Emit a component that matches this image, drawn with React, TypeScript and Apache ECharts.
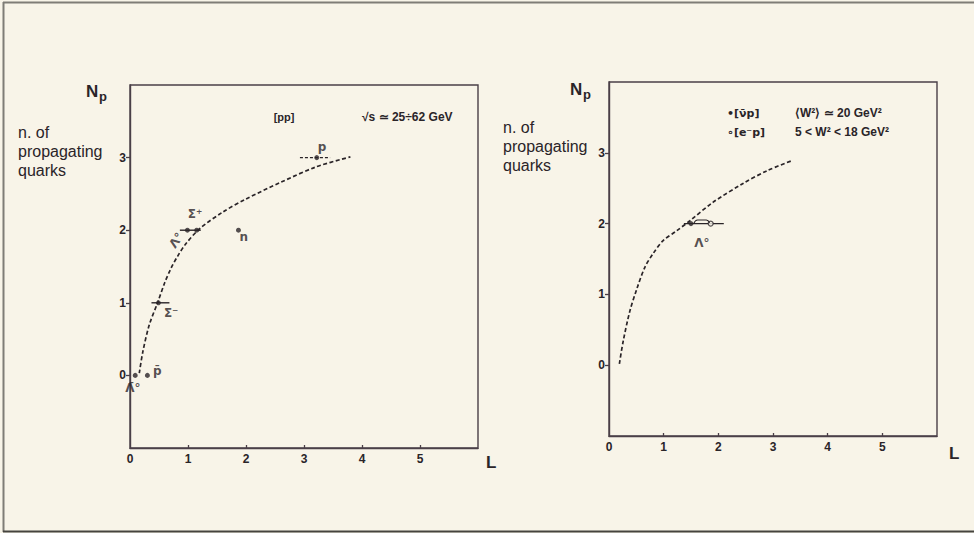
import React, { useEffect, useRef } from "react";
import * as echarts from "echarts";

// ---------- shared axis ticks ----------
const X_TICK_LABELS = [0, 1, 2, 3, 4, 5];
const X_TICK_MARKS = [1, 2, 3, 4, 5];
const Y_TICK_LABELS = [0, 1, 2, 3];

// ---------- left panel: [pp] ----------
const ppCurveL = [0.16, 0.22, 0.33, 0.48, 0.6, 0.71, 0.82, 0.95, 1.2, 1.6, 2.0, 2.6, 3.2, 3.8];
const ppCurveN = [0.03, 0.32, 0.69, 1.01, 1.28, 1.48, 1.64, 1.8, 2.02, 2.25, 2.43, 2.66, 2.87, 3.01];
const ppPointL = [0.09, 0.3, 0.49, 0.99, 1.15, 1.87, 3.22];
const ppPointN = [0, 0, 1, 2, 2, 2, 3];
const ppErrLow = [0.37, 0.86, 2.93];
const ppErrHigh = [0.68, 1.22, 3.45];
const ppErrN = [1, 2, 3];
const ppLabels = ["Λ̄°", "p̄", "Σ⁻", "Λ°", "Σ⁺", "n", "p"];
const ppLabelL = [0.05, 0.47, 0.71, 0.8, 1.12, 1.96, 3.31];
const ppLabelN = [-0.17, 0.06, 0.86, 1.86, 2.22, 1.9, 3.14];

// ---------- right panel: [ν̄p], [e⁻p] ----------
const vpCurveL = [0.19, 0.26, 0.38, 0.51, 0.66, 0.81, 0.99, 1.24, 1.48, 1.9, 2.46, 2.9, 3.35];
const vpCurveN = [0.02, 0.34, 0.76, 1.08, 1.39, 1.58, 1.76, 1.9, 2.04, 2.3, 2.57, 2.75, 2.89];
const vpFilledL = [1.5];
const vpFilledN = [2];
const epOpenL = [1.86];
const epOpenN = [2];
const vpErrLow = [1.37];
const vpErrHigh = [2.1];
const vpErrN = [2];
const vpLinkL = [1.55, 1.62, 1.78, 1.84];
const vpLinkN = [2.0, 2.05, 2.05, 2.01];
const vpLabels = ["Λ°"];
const vpLabelL = [1.7];
const vpLabelN = [1.73];

const INK = "#2a2428";
const AXIS = "#4a3f47";
const BG = "#f8f4e8";
const FONT = "'Liberation Sans', Arial, sans-serif";

function zip(a: number[], b: number[]) {
  return a.map((v, i) => [v, b[i]]);
}

function makeAxes(gridIndex: number) {
  const axisLine = { show: true, onZero: false, lineStyle: { color: AXIS, width: 1.4 } };
  return {
    x: {
      type: "value",
      gridIndex,
      min: 0,
      max: 6,
      interval: 1,
      axisLine,
      splitLine: { show: false },
      axisTick: {
        show: true,
        inside: true,
        length: 3,
        customValues: X_TICK_MARKS,
        lineStyle: { color: AXIS, width: 1.3 },
      },
      axisLabel: {
        customValues: X_TICK_LABELS,
        color: INK,
        fontFamily: FONT,
        fontWeight: "bold",
        fontSize: 12,
        margin: 5,
      },
    },
    y: {
      type: "value",
      gridIndex,
      min: -1,
      max: 4,
      interval: 1,
      axisLine,
      splitLine: { show: false },
      axisTick: {
        show: true,
        inside: false,
        length: 4,
        customValues: Y_TICK_LABELS,
        lineStyle: { color: AXIS, width: 1.3 },
      },
      axisLabel: {
        customValues: Y_TICK_LABELS,
        color: INK,
        fontFamily: FONT,
        fontWeight: "bold",
        fontSize: 12,
        margin: 4,
      },
    },
  };
}

function errorBarSeries(idx: number, low: number[], high: number[], n: number[], dashed: boolean[]) {
  return {
    type: "custom",
    xAxisIndex: idx,
    yAxisIndex: idx,
    coordinateSystem: "cartesian2d",
    silent: true,
    data: low.map((l, i) => [l, high[i], n[i], dashed[i] ? 1 : 0]),
    encode: { x: [0, 1], y: 2 },
    renderItem: (_p: any, api: any) => {
      const a = api.coord([api.value(0), api.value(2)]);
      const b = api.coord([api.value(1), api.value(2)]);
      return {
        type: "line",
        shape: { x1: a[0], y1: a[1], x2: b[0], y2: b[1] },
        style: {
          stroke: INK,
          lineWidth: 1.4,
          lineDash: api.value(3) ? [3, 2] : null,
        },
      };
    },
  };
}

function labelSeries(idx: number, names: string[], xs: number[], ys: number[], rotations: number[]) {
  return {
    type: "scatter",
    xAxisIndex: idx,
    yAxisIndex: idx,
    symbolSize: 0,
    silent: true,
    data: names.map((nm, i) => ({
      value: [xs[i], ys[i]],
      name: nm,
      label: {
        show: true,
        position: "inside",
        formatter: nm,
        rotate: rotations[i],
        color: INK,
        fontFamily: "'DejaVu Sans', " + FONT,
        fontWeight: "bold",
        fontSize: 12,
      },
    })),
  };
}

function curveSeries(idx: number, xs: number[], ys: number[]) {
  return {
    type: "line",
    xAxisIndex: idx,
    yAxisIndex: idx,
    data: zip(xs, ys),
    smooth: 0.3,
    showSymbol: false,
    silent: true,
    lineStyle: { color: INK, width: 1.7, type: [4, 2.5] },
  };
}

export default function App() {
  const ref = useRef<HTMLDivElement>(null);

  useEffect(() => {
    document.body.style.margin = "0";
    document.body.style.background = BG;
    if (!ref.current) return;
    const chart = echarts.init(ref.current, null, { renderer: "svg" });

    const leftAxes = makeAxes(0);
    const rightAxes = makeAxes(1);

    const txt = (x: number, y: number, text: string, font: string, align = "left") => ({
      type: "text",
      x,
      y,
      silent: true,
      style: { text, x: 0, y: 0, font, fill: INK, align, verticalAlign: "middle" },
    });

    const option: any = {
      animation: false,
      backgroundColor: BG,
      grid: [
        {
          left: 130,
          top: 85,
          width: 348,
          height: 363,
          show: true,
          borderColor: AXIS,
          borderWidth: 1.4,
          backgroundColor: "transparent",
        },
        {
          left: 609,
          top: 82,
          width: 328,
          height: 354,
          show: true,
          borderColor: AXIS,
          borderWidth: 1.4,
          backgroundColor: "transparent",
        },
      ],
      xAxis: [leftAxes.x, rightAxes.x],
      yAxis: [leftAxes.y, rightAxes.y],
      series: [
        curveSeries(0, ppCurveL, ppCurveN),
        errorBarSeries(0, ppErrLow, ppErrHigh, ppErrN, [false, false, true]),
        {
          type: "scatter",
          xAxisIndex: 0,
          yAxisIndex: 0,
          symbol: "circle",
          symbolSize: 5,
          silent: true,
          itemStyle: { color: INK },
          data: zip(ppPointL, ppPointN),
        },
        labelSeries(0, ppLabels, ppLabelL, ppLabelN, [0, 0, 0, 55, 0, 0, 0]),
        curveSeries(1, vpCurveL, vpCurveN),
        errorBarSeries(1, vpErrLow, vpErrHigh, vpErrN, [false]),
        {
          type: "line",
          xAxisIndex: 1,
          yAxisIndex: 1,
          data: zip(vpLinkL, vpLinkN),
          smooth: 0.5,
          showSymbol: false,
          silent: true,
          lineStyle: { color: INK, width: 1.1 },
        },
        {
          type: "scatter",
          xAxisIndex: 1,
          yAxisIndex: 1,
          symbol: "circle",
          symbolSize: 5,
          silent: true,
          itemStyle: { color: INK },
          data: zip(vpFilledL, vpFilledN),
        },
        {
          type: "scatter",
          xAxisIndex: 1,
          yAxisIndex: 1,
          symbol: "circle",
          symbolSize: 5,
          silent: true,
          itemStyle: { color: BG, borderColor: INK, borderWidth: 1.2 },
          data: zip(epOpenL, epOpenN),
        },
        labelSeries(1, vpLabels, vpLabelL, vpLabelN, [0]),
      ],
      graphic: [
        // outer frame
        { type: "line", silent: true, shape: { x1: 3, y1: 2.5, x2: 974, y2: 2.5 }, style: { stroke: "#7f7d76", lineWidth: 2 } },
        { type: "line", silent: true, shape: { x1: 3.5, y1: 2, x2: 3.5, y2: 532 }, style: { stroke: "#7f7d76", lineWidth: 2 } },
        { type: "line", silent: true, shape: { x1: 3, y1: 531.5, x2: 974, y2: 531.5 }, style: { stroke: "#45443f", lineWidth: 2 } },
        // left panel titles
        txt(86, 91, "N", `bold 17px ${FONT}`),
        txt(99, 96, "p", `bold 13px ${FONT}`),
        txt(18, 132, "n. of", `16px ${FONT}`),
        txt(18, 151, "propagating", `16px ${FONT}`),
        txt(18, 170, "quarks", `16px ${FONT}`),
        txt(486, 462, "L", `bold 17px ${FONT}`),
        txt(284, 117, "[pp]", `bold 11px ${FONT}`, "center"),
        txt(362, 117, "√s ≃ 25÷62 GeV", `bold 12px ${FONT}`),
        // right panel titles
        txt(570, 89, "N", `bold 17px ${FONT}`),
        txt(583, 94, "p", `bold 13px ${FONT}`),
        txt(503, 127, "n. of", `16px ${FONT}`),
        txt(503, 146, "propagating", `16px ${FONT}`),
        txt(503, 165, "quarks", `16px ${FONT}`),
        txt(949, 453, "L", `bold 17px ${FONT}`),
        txt(727, 113, "•[ν̄p]", `bold 11px 'DejaVu Sans', ${FONT}`),
        txt(727, 132, "∘[e⁻p]", `bold 11px 'DejaVu Sans', ${FONT}`),
        txt(795, 113, "⟨W²⟩ ≃ 20 GeV²", `bold 12px ${FONT}`),
        txt(795, 132, "5 < W² < 18 GeV²", `bold 12px ${FONT}`),
      ],
    };

    chart.setOption(option);
    return () => chart.dispose();
  }, []);

  return (
    <div
      ref={ref}
      style={{ position: "absolute", left: 0, top: 0, width: 974, height: 533, background: BG }}
    />
  );
}
